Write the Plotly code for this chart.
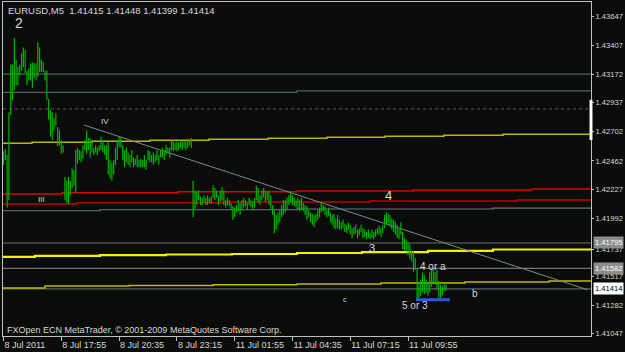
import plotly.graph_objects as go

# ---------------- data ----------------
highs = [
    1.4254, 1.4256, 1.4251, 1.4286, 1.4325, 1.4325, 1.4347, 1.4329, 1.4323, 1.4325,
    1.4334, 1.4339, 1.4337, 1.4320, 1.4322, 1.4326, 1.4327, 1.4326, 1.4326, 1.4343,
    1.4339, 1.4329, 1.4327, 1.4320, 1.4320, 1.4297, 1.4288, 1.4286, 1.4281, 1.4285,
    1.4274, 1.4271, 1.4263, 1.4259, 1.4233, 1.4230, 1.4233, 1.4230, 1.4240, 1.4239,
    1.4255, 1.4257, 1.4255, 1.4254, 1.4259, 1.4263, 1.4271, 1.4265, 1.4265, 1.4263,
    1.4257, 1.4259, 1.4257, 1.4259, 1.4266, 1.4263, 1.4259, 1.4259, 1.4263, 1.4247,
    1.4245, 1.4247, 1.4257, 1.4263, 1.4266, 1.4266, 1.4259, 1.4255, 1.4257, 1.4253,
    1.4251, 1.4255, 1.4249, 1.4248, 1.4251, 1.4247, 1.4248, 1.4247, 1.4251, 1.4247,
    1.4255, 1.4254, 1.4251, 1.4253, 1.4251, 1.4255, 1.4251, 1.4255, 1.4257, 1.4255,
    1.4259, 1.4257, 1.4257, 1.4263, 1.4263, 1.4261, 1.4262, 1.4261, 1.4263, 1.4262,
    1.4263, 1.4262, 1.4263, 1.4263, 1.4265, 1.4230, 1.4222, 1.4221, 1.4222, 1.4217,
    1.4216, 1.4218, 1.4216, 1.4218, 1.4216, 1.4217, 1.4226, 1.4224, 1.4222, 1.4218,
    1.4222, 1.4225, 1.4222, 1.4214, 1.4216, 1.4214, 1.4212, 1.4209, 1.4208, 1.4210,
    1.4214, 1.4212, 1.4214, 1.4216, 1.4214, 1.4212, 1.4216, 1.4214, 1.4213, 1.4216,
    1.4226, 1.4224, 1.4218, 1.4222, 1.4224, 1.4222, 1.4221, 1.4222, 1.4218, 1.4210,
    1.4206, 1.4202, 1.4204, 1.4206, 1.4210, 1.4214, 1.4214, 1.4216, 1.4218, 1.4220,
    1.4218, 1.4216, 1.4214, 1.4216, 1.4214, 1.4216, 1.4212, 1.4210, 1.4209, 1.4206,
    1.4204, 1.4203, 1.4202, 1.4203, 1.4206, 1.4208, 1.4212, 1.4210, 1.4209, 1.4206,
    1.4208, 1.4204, 1.4202, 1.4203, 1.4199, 1.4202, 1.4198, 1.4196, 1.4198, 1.4195,
    1.4194, 1.4196, 1.4194, 1.4191, 1.4192, 1.4194, 1.4190, 1.4191, 1.4194, 1.4191,
    1.4190, 1.4188, 1.4190, 1.4187, 1.4190, 1.4188, 1.4190, 1.4191, 1.4193, 1.4191,
    1.4194, 1.4202, 1.4204, 1.4203, 1.4202, 1.4199, 1.4198, 1.4196, 1.4194, 1.4191,
    1.4196, 1.4188, 1.4183, 1.4182, 1.4180, 1.4178, 1.4173, 1.4172, 1.4167, 1.4158,
    1.4145, 1.4149, 1.4155, 1.4153, 1.4149, 1.4146, 1.4155, 1.4157, 1.4158, 1.4155,
    1.4157, 1.4148, 1.4145, 1.4144, 1.4146, 1.4145,
]
lows = [
    1.4243, 1.4247, 1.4208, 1.4214, 1.4284, 1.4296, 1.4304, 1.4308, 1.4308, 1.4316,
    1.4320, 1.4323, 1.4318, 1.4308, 1.4312, 1.4312, 1.4306, 1.4314, 1.4312, 1.4315,
    1.4319, 1.4319, 1.4319, 1.4312, 1.4296, 1.4280, 1.4266, 1.4263, 1.4271, 1.4275,
    1.4258, 1.4259, 1.4252, 1.4253, 1.4214, 1.4212, 1.4211, 1.4218, 1.4224, 1.4226,
    1.4220, 1.4244, 1.4247, 1.4245, 1.4248, 1.4255, 1.4252, 1.4255, 1.4249, 1.4253,
    1.4251, 1.4253, 1.4251, 1.4254, 1.4255, 1.4253, 1.4251, 1.4247, 1.4235, 1.4232,
    1.4230, 1.4235, 1.4243, 1.4247, 1.4257, 1.4257, 1.4247, 1.4241, 1.4245, 1.4243,
    1.4241, 1.4245, 1.4241, 1.4243, 1.4241, 1.4241, 1.4241, 1.4241, 1.4241, 1.4239,
    1.4247, 1.4245, 1.4245, 1.4243, 1.4245, 1.4247, 1.4243, 1.4249, 1.4249, 1.4247,
    1.4251, 1.4253, 1.4249, 1.4255, 1.4254, 1.4255, 1.4254, 1.4255, 1.4257, 1.4255,
    1.4257, 1.4255, 1.4257, 1.4259, 1.4257, 1.4200, 1.4206, 1.4210, 1.4214, 1.4210,
    1.4210, 1.4212, 1.4210, 1.4210, 1.4212, 1.4211, 1.4216, 1.4214, 1.4216, 1.4210,
    1.4213, 1.4214, 1.4210, 1.4208, 1.4210, 1.4209, 1.4206, 1.4198, 1.4200, 1.4204,
    1.4205, 1.4202, 1.4206, 1.4208, 1.4209, 1.4206, 1.4210, 1.4208, 1.4206, 1.4208,
    1.4214, 1.4212, 1.4210, 1.4214, 1.4216, 1.4213, 1.4214, 1.4210, 1.4206, 1.4202,
    1.4187, 1.4190, 1.4194, 1.4196, 1.4200, 1.4202, 1.4204, 1.4206, 1.4210, 1.4212,
    1.4210, 1.4209, 1.4208, 1.4206, 1.4205, 1.4206, 1.4205, 1.4202, 1.4198, 1.4200,
    1.4196, 1.4194, 1.4192, 1.4196, 1.4198, 1.4200, 1.4204, 1.4205, 1.4202, 1.4200,
    1.4201, 1.4196, 1.4194, 1.4191, 1.4190, 1.4191, 1.4190, 1.4190, 1.4191, 1.4188,
    1.4187, 1.4190, 1.4186, 1.4183, 1.4186, 1.4187, 1.4183, 1.4185, 1.4188, 1.4183,
    1.4184, 1.4182, 1.4183, 1.4182, 1.4183, 1.4182, 1.4184, 1.4186, 1.4186, 1.4184,
    1.4187, 1.4191, 1.4194, 1.4195, 1.4192, 1.4190, 1.4188, 1.4186, 1.4183, 1.4182,
    1.4186, 1.4174, 1.4173, 1.4172, 1.4169, 1.4166, 1.4164, 1.4155, 1.4157, 1.4133,
    1.4134, 1.4136, 1.4139, 1.4137, 1.4138, 1.4136, 1.4139, 1.4143, 1.4147, 1.4145,
    1.4141, 1.4134, 1.4134, 1.4136, 1.4140, 1.4140,
]
bar_index = list(range(len(highs)))

x_tick_index = [0, 32, 64, 96, 128, 160, 192, 224]
x_tick_text = ["8 Jul 2011", "8 Jul 17:55", "8 Jul 20:35", "8 Jul 23:15",
               "11 Jul 01:55", "11 Jul 04:35", "11 Jul 07:15", "11 Jul 09:55"]

y_tick_vals = [1.43647, 1.43407, 1.43172, 1.42937, 1.42702, 1.42462, 1.42227,
               1.41992, 1.41737, 1.41517, 1.41282, 1.41047]
y_tick_text = ["1.43647", "1.43407", "1.43172", "1.42937", "1.42702", "1.42462",
               "1.42227", "1.41992", "1.41737", "1.41517", "1.41282", "1.41047"]

# price labels highlighted on the scale
grey_price_labels = [1.41795, 1.41582]
current_price = 1.41414

# indicator step lines: start bar index and level
yellow_upper_starts = [15.8, 49.0, 81.1, 113.8, 146.5, 179.1, 211.2, 243.9, 276.6]
yellow_upper_levels = [1.42606, 1.42614, 1.42622, 1.42630, 1.42638, 1.42647,
                       1.42655, 1.42663, 1.42671, 1.42679]
red_upper_starts = [32.4, 96.6, 162.5, 226.7, 292.6]
red_upper_levels = [1.42191, 1.42202, 1.42210, 1.42216, 1.42224, 1.42232]
red_lower_starts = [40.7, 121.5, 202.9, 284.3]
red_lower_levels = [1.42109, 1.42119, 1.42126, 1.42134, 1.42142]
grey_mid_starts = [53.4, 162.5, 271.0]
grey_mid_levels = [1.42054, 1.42062, 1.42068, 1.42076]
yellow_thick_starts = [17.4, 53.4, 90.0, 126.5, 162.5, 198.5, 235.0, 271.0]
yellow_thick_levels = [1.41676, 1.41684, 1.41690, 1.41696, 1.41700, 1.41708,
                       1.41716, 1.41725, 1.41737]
yellow_thin_starts = [23.0, 69.5, 116.0, 162.5, 209.0, 255.5, 302.1]
yellow_thin_levels = [1.41422, 1.41438, 1.41443, 1.41448, 1.41455, 1.41463,
                      1.41471, 1.41479]
grey_top_starts = [162.5]
grey_top_levels = [1.43023, 1.43034]

flat_grey_levels = [1.43172, 1.41790, 1.41582, 1.41414]
dotted_level = 1.42886

trend_x = [44.6, 323.6]
trend_y = [1.42755, 1.41406]
blue_x = [228.4, 247.2]
blue_y = [1.41326, 1.41326]

wave_labels = [
    ("2", 8.6, 1.43590, 14), ("IV", 56.2, 1.42788, 8), ("III", 20.8, 1.42142, 8),
    ("4", 212.9, 1.42175, 13), ("3", 204.0, 1.41749, 11), ("4 or a", 237.8, 1.41594, 10),
    ("5 or 3", 227.8, 1.41275, 10), ("b", 261.0, 1.41373, 10), ("c", 189.0, 1.41324, 7),
]

XMIN, XMAX = -0.277, 325.3
YMIN, YMAX = 1.41029, 1.43762

FONT = "Liberation Sans"
TXT = "#d8d8d8"

fig = go.Figure()


def step_line(starts, levels, color, width, dash="solid"):
    xs = [XMIN] + starts + [XMAX]
    ys = levels + [levels[-1]]
    fig.add_trace(go.Scatter(x=xs, y=ys, mode="lines", line_shape="hv",
                             line=dict(color=color, width=width, dash=dash),
                             hoverinfo="skip", showlegend=False))


# flat lines
for lvl, col in zip(flat_grey_levels, ["#4e5e6c", "#6c6c6c", "#727272", "#5a646e"]):
    fig.add_trace(go.Scatter(x=[XMIN, XMAX], y=[lvl, lvl], mode="lines",
                             line=dict(color=col, width=1.2), hoverinfo="skip",
                             showlegend=False))
fig.add_trace(go.Scatter(x=[XMIN, XMAX], y=[dotted_level, dotted_level], mode="lines",
                         line=dict(color="#404040", width=1.5, dash="dot"),
                         hoverinfo="skip", showlegend=False))

step_line(grey_top_starts, grey_top_levels, "#4e5e6c", 1.2)
step_line(grey_mid_starts, grey_mid_levels, "#6a7684", 1.2)
step_line(red_lower_starts, red_lower_levels, "#c00000", 1.5)
step_line(red_upper_starts, red_upper_levels, "#e00000", 1.5)
step_line(yellow_upper_starts, yellow_upper_levels, "#bdb500", 1.5)
step_line(yellow_thin_starts, yellow_thin_levels, "#c2bb00", 1.5)
step_line(yellow_thick_starts, yellow_thick_levels, "#f2f200", 2.2)

# trend line
fig.add_trace(go.Scatter(x=trend_x, y=trend_y, mode="lines",
                         line=dict(color="#7c8898", width=1), hoverinfo="skip",
                         showlegend=False))

# price bars (high-low)
bx, by = [], []
for i, h, l in zip(bar_index, highs, lows):
    bx += [i, i, None]
    by += [l, h, None]
fig.add_trace(go.Scatter(x=bx, y=by, mode="lines",
                         line=dict(color="#00b400", width=1.2), hoverinfo="skip",
                         showlegend=False))

# blue horizontal
fig.add_trace(go.Scatter(x=blue_x, y=blue_y, mode="lines",
                         line=dict(color="#2c54e6", width=3), hoverinfo="skip",
                         showlegend=False))

annotations = []
for text, xi, yv, size in wave_labels:
    annotations.append(dict(x=xi, y=yv, xref="x", yref="y", text=text, showarrow=False,
                            font=dict(family=FONT, size=size, color=TXT)))

annotations.append(dict(x=0.005, y=0.976, xref="paper", yref="paper", xanchor="left",
                        yanchor="middle", showarrow=False,
                        text="EURUSD,M5  1.41415 1.41448 1.41399 1.41414",
                        font=dict(family=FONT, size=9.5, color=TXT)))
annotations.append(dict(x=0.004, y=0.018, xref="paper", yref="paper", xanchor="left",
                        yanchor="middle", showarrow=False,
                        text="FXOpen ECN MetaTrader, © 2001-2009 MetaQuotes Software Corp.",
                        font=dict(family=FONT, size=9, color=TXT)))

for v in grey_price_labels:
    annotations.append(dict(x=1, y=v, xref="paper", yref="y", xanchor="left",
                            yanchor="middle", xshift=2, showarrow=False,
                            text=f"{v:.5f}", bgcolor="#8c8c8c", borderpad=1,
                            font=dict(family=FONT, size=7.6, color="#ffffff")))
annotations.append(dict(x=1, y=current_price, xref="paper", yref="y", xanchor="left",
                        yanchor="middle", xshift=2, showarrow=False,
                        text=f"{current_price:.5f}", bgcolor="#ffffff", borderpad=1,
                        font=dict(family=FONT, size=7.6, color="#000000")))

shapes = [dict(type="rect", xref="paper", yref="paper", x0=0.9975, x1=1.0025,
               y0=0.587, y1=0.707, fillcolor="#ffffff", line=dict(width=0))]

fig.update_layout(
    width=625, height=352,
    margin=dict(l=3, r=34, t=2, b=16),
    paper_bgcolor="#0a0c0a", plot_bgcolor="#0a0c0a",
    showlegend=False,
    annotations=annotations,
    shapes=shapes,
    xaxis=dict(range=[XMIN, XMAX], tickvals=x_tick_index, ticktext=x_tick_text,
               ticks="outside", ticklen=4, tickcolor="#c0c0c0", tickangle=0,
               ticklabelposition="outside right", automargin=False,
               tickfont=dict(family=FONT, size=9, color=TXT),
               showgrid=False, zeroline=False, showline=True, mirror=True,
               linecolor="#c0c0c0", linewidth=1, fixedrange=True),
    yaxis=dict(range=[YMIN, YMAX], side="right", tickvals=y_tick_vals,
               ticktext=y_tick_text, ticks="outside", ticklen=2, tickcolor="#c0c0c0",
               automargin=False, ticklabelstandoff=0,
               tickfont=dict(family=FONT, size=7.6, color=TXT),
               showgrid=False, zeroline=False, showline=True, mirror=True,
               linecolor="#c0c0c0", linewidth=1, fixedrange=True),
)

fig.write_html("out.html")
